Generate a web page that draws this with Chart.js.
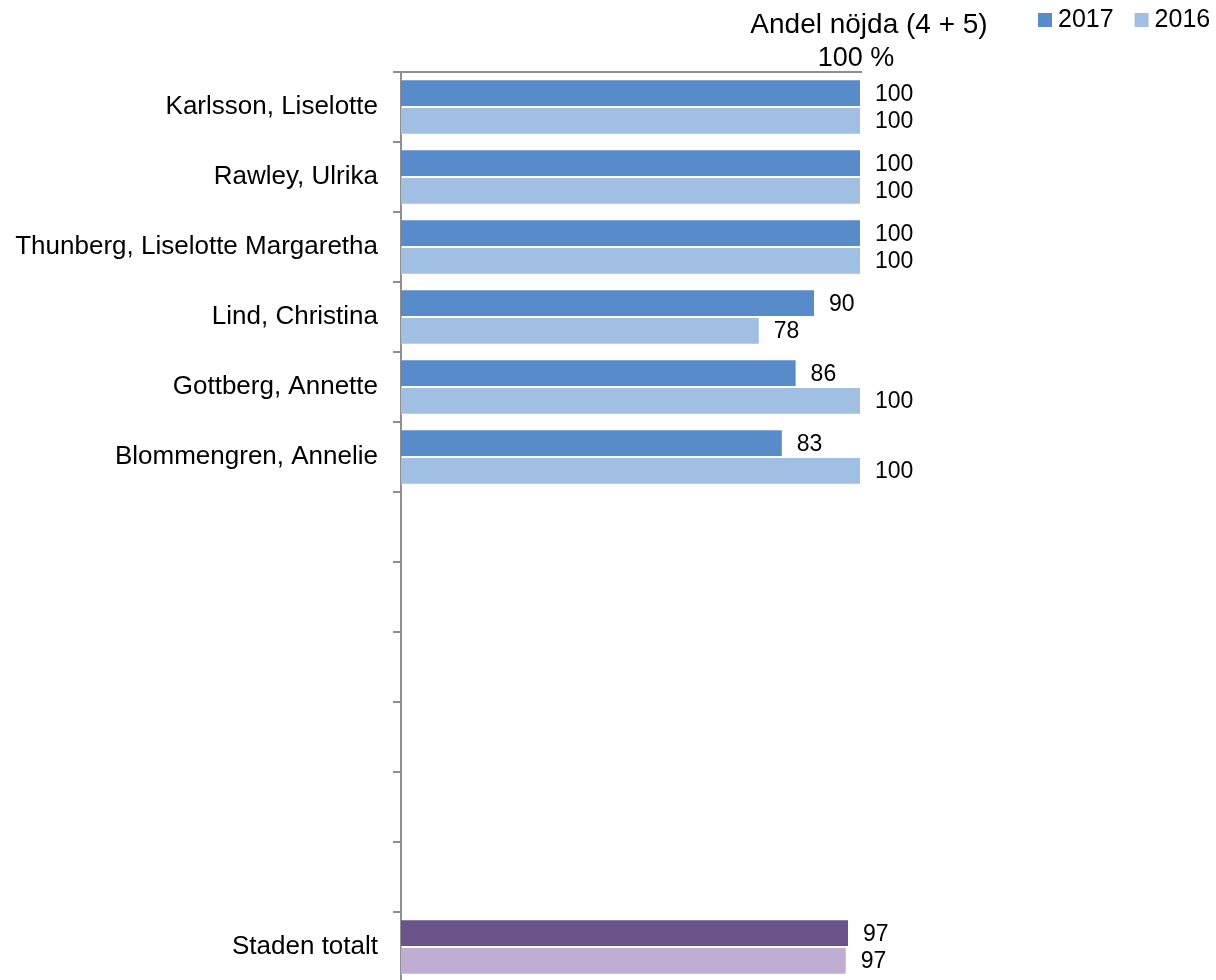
<!DOCTYPE html>
<html>
<head>
<meta charset="utf-8">
<script src="https://cdn.jsdelivr.net/npm/chart.js@4/dist/chart.umd.min.js"></script>
<style>
  html, body { margin: 0; padding: 0; overflow: hidden; background: #ffffff; }
  canvas { display: block; }
</style>
</head>
<body>
<canvas id="c" width="1216" height="984"></canvas>
<script>
const categories = [
  'Karlsson, Liselotte',
  'Rawley, Ulrika',
  'Thunberg, Liselotte Margaretha',
  'Lind, Christina',
  'Gottberg, Annette',
  'Blommengren, Annelie',
  '', '', '', '', '', '',
  'Staden totalt'
];
const seriesNames = ['2017', '2016'];
const values2017 = [100, 100, 100, 90, 86, 83, null, null, null, null, null, null, 97.4];
const values2016 = [100, 100, 100, 78, 100, 100, null, null, null, null, null, null, 96.9];
const axisTitle = 'Andel nöjda (4 + 5)';
const xTickLabels = { 100: '100 %' };

const FONT = '"Liberation Sans", Arial, sans-serif';
const blue2017 = '#588BCA', blue2016 = '#A1BFE3';
const purple2017 = '#6A5389', purple2016 = '#BFADD3';
const totalIndex = categories.length - 1;

function colorsFor(base, total) {
  return categories.map((_, i) => i === totalIndex ? total : base);
}

const labelPlugin = {
  id: 'valueLabels',
  afterDatasetsDraw(chart) {
    const ctx = chart.ctx;
    ctx.save();
    ctx.font = '23px ' + FONT;
    ctx.fillStyle = '#000000';
    ctx.textAlign = 'left';
    ctx.textBaseline = 'middle';
    chart.data.datasets.forEach((ds, di) => {
      const meta = chart.getDatasetMeta(di);
      meta.data.forEach((el, i) => {
        const v = ds.data[i];
        if (v === null || v === undefined) return;
        ctx.fillText(String(Math.round(v)), el.x + 14, el.y + 1);
      });
    });
    ctx.restore();
  }
};

const headerPlugin = {
  id: 'header',
  afterDraw(chart) {
    const ctx = chart.ctx;
    ctx.save();
    ctx.font = '28px ' + FONT;
    ctx.fillStyle = '#000000';
    ctx.textAlign = 'center';
    ctx.textBaseline = 'middle';
    ctx.fillText(axisTitle, 869, 25);
    ctx.font = '25px ' + FONT;
    ctx.textAlign = 'left';
    ctx.textBaseline = 'alphabetic';
    let x = 1038;
    chart.data.datasets.forEach((ds) => {
      ctx.fillStyle = ds.legendColor;
      ctx.fillRect(x, 13, 14, 14);
      ctx.fillStyle = '#000000';
      ctx.fillText(ds.label, x + 20, 27);
      x += 20 + ctx.measureText(ds.label).width + 21;
    });
    ctx.restore();
  }
};

new Chart(document.getElementById('c'), {
  type: 'bar',
  data: {
    labels: categories,
    datasets: [
      {
        label: seriesNames[0],
        data: values2017,
        backgroundColor: colorsFor(blue2017, purple2017),
        borderColor: 'rgba(255,255,255,0.35)',
        borderWidth: 1,
        legendColor: blue2017,
        categoryPercentage: 0.79,
        barPercentage: 1.0
      },
      {
        label: seriesNames[1],
        data: values2016,
        backgroundColor: colorsFor(blue2016, purple2016),
        borderColor: 'rgba(255,255,255,0.35)',
        borderWidth: 1,
        legendColor: blue2016,
        categoryPercentage: 0.79,
        barPercentage: 1.0
      }
    ]
  },
  options: {
    indexAxis: 'y',
    responsive: false,
    animation: false,
    devicePixelRatio: 1,
    layout: { padding: { top: 32, right: 355, bottom: 2, left: 0 } },
    plugins: {
      legend: { display: false },
      title: { display: false },
      tooltip: { enabled: false }
    },
    scales: {
      x: {
        position: 'top',
        min: 0,
        max: 100,
        afterFit(s) { s.height = 40; s.paddingLeft = 0; s.paddingRight = 0; },
        ticks: {
          stepSize: 100,
          padding: 0,
          labelOffset: -5,
          color: '#000000',
          font: { family: FONT, size: 27, lineHeight: 1 },
          maxRotation: 0,
          callback: (v) => xTickLabels[v] || ''
        },
        grid: { display: false, drawTicks: false },
        border: { display: true, color: '#8f8f8f', width: 2 }
      },
      y: {
        position: 'left',
        afterFit(s) { s.width = 401; s.paddingTop = 0; s.paddingBottom = 0; },
        ticks: {
          padding: 15,
          color: '#000000',
          font: { family: FONT, size: 26 },
          autoSkip: false
        },
        grid: {
          display: true,
          drawOnChartArea: false,
          drawTicks: true,
          tickLength: 8,
          offset: true,
          color: '#8f8f8f',
          lineWidth: 2
        },
        border: { display: true, color: '#8f8f8f', width: 2 }
      }
    }
  },
  plugins: [labelPlugin, headerPlugin]
});
</script>
</body>
</html>
